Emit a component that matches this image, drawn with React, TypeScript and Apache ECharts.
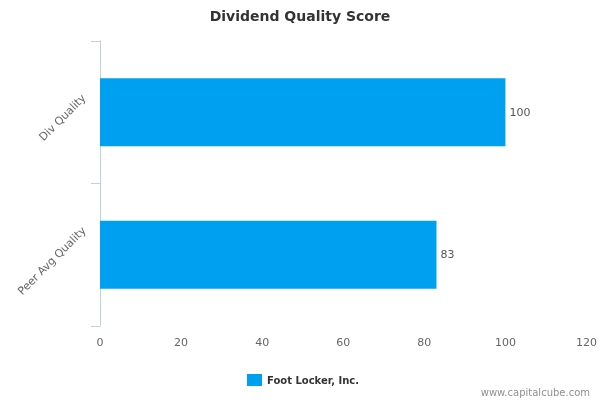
import React, { useEffect, useRef } from "react";
import * as echarts from "echarts";

const categories = ["Div Quality", "Peer Avg Quality"];
const seriesName = "Foot Locker, Inc.";
const values = [100, 83];
const xTicks = { min: 0, max: 120, interval: 20 };

export default function App() {
  const ref = useRef<HTMLDivElement>(null);
  useEffect(() => {
    if (!ref.current) return;
    const chart = echarts.init(ref.current, null, { renderer: "svg" });
    const font = "DejaVu Sans, Verdana, sans-serif";
    const credit = {
      id: "credit",
      type: "text",
      right: 10,
      bottom: 3,
      style: { text: "www.capitalcube.com", fill: "#909090", fontSize: 10, fontFamily: font },
    };
    chart.setOption({
      animation: false,
      textStyle: { fontFamily: font },
      title: {
        text: "Dividend Quality Score",
        left: "center",
        top: 4,
        textStyle: { fontSize: 14, fontWeight: "bold", color: "#333", fontFamily: font },
      },
      grid: { left: 100, right: 11, top: 41, height: 285 },
      xAxis: {
        type: "value",
        min: xTicks.min,
        max: xTicks.max,
        interval: xTicks.interval,
        axisLine: { show: false },
        axisTick: { show: false },
        splitLine: { show: false },
        axisLabel: { color: "#666", fontSize: 11, margin: 11, fontFamily: font },
      },
      yAxis: {
        type: "category",
        data: categories,
        inverse: true,
        axisLine: { show: true, lineStyle: { color: "#c0d0e0", width: 1 } },
        axisTick: { show: true, length: 9, lineStyle: { color: "#c0d0e0" } },
        axisLabel: { show: false },
      },
      legend: {
        bottom: 9,
        left: 242,
        itemWidth: 15,
        itemHeight: 12,
        itemGap: 6,
        icon: "rect",
        textStyle: { fontSize: 10, fontWeight: "bold", color: "#333", fontFamily: font },
        data: [seriesName],
      },
      graphic: [credit],
      series: [
        {
          name: seriesName,
          type: "bar",
          data: values,
          barWidth: 68,
          itemStyle: { color: "#00a0f0" },
          label: {
            show: true,
            position: "right",
            distance: 4,
            color: "#555",
            fontSize: 11,
            fontFamily: font,
          },
        },
      ],
    });

    // Rotated category labels, anchored from the axis scale (Highcharts-like placement)
    const ctx = document.createElement("canvas").getContext("2d");
    const labelFont = "11px " + font;
    if (ctx) ctx.font = labelFont;
    const axisX = chart.convertToPixel({ xAxisIndex: 0 }, 0) as number;
    const labels = categories.map((c, i) => {
      const y = chart.convertToPixel({ yAxisIndex: 0 }, c) as number;
      const len = ctx ? ctx.measureText(c).width : c.length * 6;
      const off = len * 0.33 - 4;
      return {
        id: "ylab" + i,
        type: "text",
        x: axisX - 16,
        y: y - off,
        rotation: Math.PI / 4,
        style: {
          text: c,
          fill: "#666",
          fontSize: 11,
          fontFamily: font,
          align: "right",
          verticalAlign: "middle",
        },
      };
    });
    chart.setOption({ graphic: [credit, ...labels] });

    return () => chart.dispose();
  }, []);
  return (
    <div
      ref={ref}
      style={{ position: "fixed", left: 0, top: 0, width: 600, height: 400 }}
    />
  );
}
